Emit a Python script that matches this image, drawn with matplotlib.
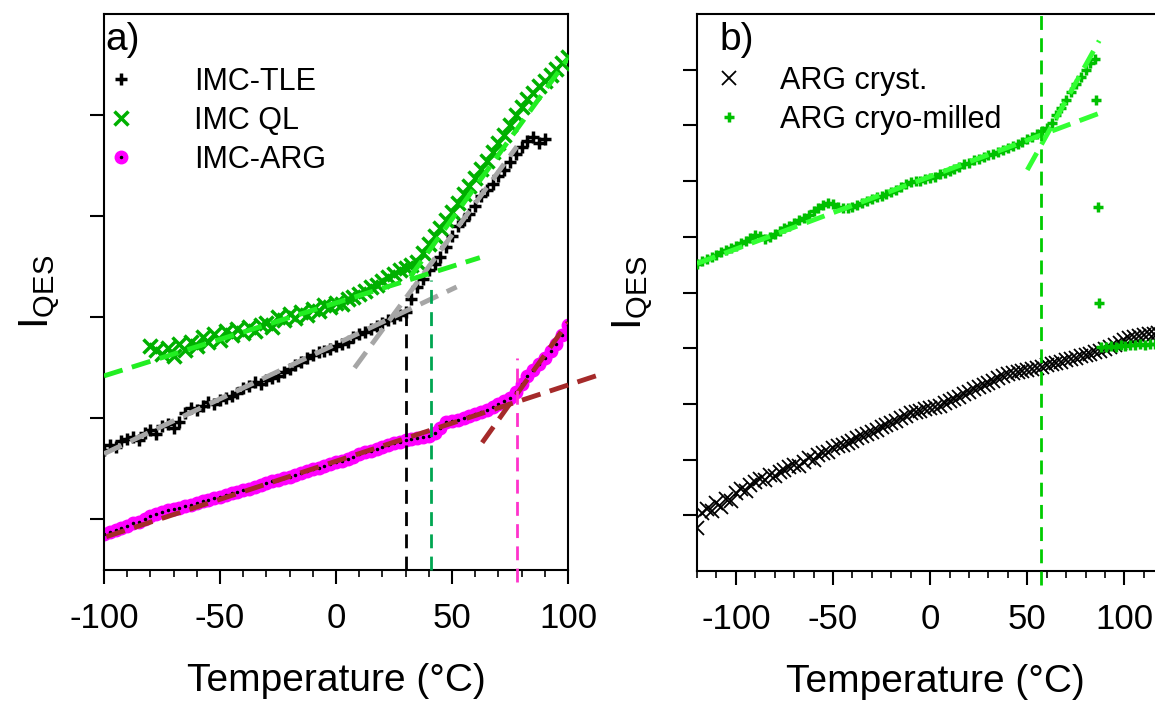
import numpy as np
import matplotlib
matplotlib.use('Agg')
import matplotlib.pyplot as plt
from matplotlib.ticker import MultipleLocator

plt.rcParams['font.family'] = ['Liberation Sans', 'DejaVu Sans']
plt.rcParams['axes.unicode_minus'] = False

# ---- panel a data ----
t_tle = np.arange(-100, 90.1, 2.5)
i_tle = [1.19, 1.24, 1.22, 1.28, 1.30, 1.32, 1.29, 1.36, 1.38, 1.35,
         1.42, 1.44, 1.40, 1.46, 1.55, 1.60, 1.58, 1.62, 1.66, 1.64,
         1.68, 1.70, 1.72, 1.75, 1.80, 1.82, 1.86, 1.84, 1.88, 1.90,
         1.92, 1.96, 1.99, 2.03, 2.06, 2.10, 2.13, 2.16, 2.17, 2.19,
         2.22, 2.24, 2.26, 2.30, 2.33, 2.35, 2.38, 2.41, 2.44, 2.47,
         2.49, 2.52, 2.55, 2.68, 2.80, 2.88, 2.97, 3.03, 3.10, 3.20,
         3.30, 3.40, 3.46, 3.52, 3.60, 3.70, 3.76, 3.82, 3.90, 3.96,
         4.04, 4.12, 4.18, 4.24, 4.28, 4.22, 4.26]

t_ql = np.arange(-80, 100.1, 2.5)
i_ql = [2.22, 2.18, 2.14, 2.20, 2.12, 2.24, 2.18, 2.26, 2.22, 2.30,
        2.26, 2.33, 2.28, 2.36, 2.32, 2.38, 2.34, 2.40, 2.36, 2.42,
        2.44, 2.40, 2.50, 2.47, 2.53, 2.49, 2.55, 2.52, 2.58, 2.56,
        2.62, 2.60, 2.64, 2.63, 2.68, 2.70, 2.73, 2.76, 2.80, 2.82,
        2.86, 2.90, 2.93, 2.97, 2.99, 3.02, 3.05, 3.14, 3.22, 3.30,
        3.38, 3.46, 3.54, 3.63, 3.72, 3.80, 3.88, 3.97, 4.05, 4.13,
        4.22, 4.30, 4.40, 4.50, 4.58, 4.66, 4.72, 4.79, 4.84, 4.90,
        4.96, 5.02, 5.07]

t_arg = np.arange(-100, 100.1, 2.5)
i_arg = [0.36, 0.38, 0.40, 0.42, 0.44, 0.46, 0.47, 0.50, 0.53, 0.55,
         0.57, 0.59, 0.60, 0.61, 0.63, 0.64, 0.66, 0.68, 0.69, 0.71,
         0.72, 0.74, 0.76, 0.77, 0.79, 0.80, 0.82, 0.84, 0.86, 0.88,
         0.89, 0.91, 0.92, 0.94, 0.96, 0.98, 1.00, 1.01, 1.03, 1.05,
         1.07, 1.08, 1.10, 1.12, 1.15, 1.17, 1.18, 1.20, 1.22, 1.24,
         1.26, 1.27, 1.29, 1.30, 1.31, 1.32, 1.33, 1.36, 1.40, 1.46,
         1.47, 1.48, 1.50, 1.52, 1.54, 1.56, 1.58, 1.61, 1.64, 1.67,
         1.70, 1.76, 1.84, 1.92, 1.98, 2.04, 2.10, 2.17, 2.24, 2.32,
         2.42]

# linear fits (end points) and transition temperatures, panel a
fit_ql_low_t, fit_ql_low_i = [-100, 62], [1.92, 3.09]
fit_ql_high_t, fit_ql_high_i = [32, 100], [2.90, 5.06]
fit_tle_low_t, fit_tle_low_i = [-100, 52], [1.15, 2.80]
fit_tle_high_t, fit_tle_high_i = [8, 78], [2.00, 4.19]
fit_arg_low_t, fit_arg_low_i = [-99, 112], [0.33, 1.92]
fit_arg_high_t, fit_arg_high_i = [63, 100], [1.26, 2.45]
tg_a = [30, 41, 78]
tg_a_top = [2.50, 2.87, 2.10]

# ---- panel b data ----
t_cryst = np.arange(-120, 122.6, 2.5)
i_cryst = [0.78, 1.05, 1.12, 1.08, 1.22, 1.15, 1.30, 1.26, 1.40, 1.48,
           1.44, 1.55, 1.60, 1.66, 1.64, 1.72, 1.70, 1.78, 1.82, 1.86,
           1.90, 1.88, 1.96, 2.02, 2.00, 2.08, 2.12, 2.14, 2.20, 2.24,
           2.26, 2.30, 2.34, 2.38, 2.42, 2.46, 2.50, 2.54, 2.58, 2.62,
           2.66, 2.70, 2.74, 2.78, 2.83, 2.86, 2.88, 2.90, 2.92, 2.94,
           2.97, 3.01, 3.05, 3.09, 3.13, 3.17, 3.22, 3.26, 3.30, 3.34,
           3.38, 3.42, 3.46, 3.50, 3.53, 3.55, 3.57, 3.59, 3.61, 3.63,
           3.65, 3.67, 3.69, 3.71, 3.73, 3.76, 3.78, 3.80, 3.83, 3.86,
           3.88, 3.90, 3.93, 3.95, 3.98, 4.02, 4.06, 4.10, 4.14, 4.18,
           4.20, 4.22, 4.23, 4.25, 4.26, 4.28, 4.29, 4.30]

t_milled = np.arange(-120, 85.1, 2.5)
i_milled = [5.52, 5.56, 5.60, 5.63, 5.68, 5.72, 5.76, 5.80, 5.84, 5.88,
            5.93, 5.98, 6.03, 6.02, 5.96, 5.99, 6.05, 6.10, 6.15, 6.20,
            6.25, 6.30, 6.34, 6.40, 6.46, 6.52, 6.57, 6.60, 6.58, 6.54,
            6.51, 6.52, 6.54, 6.57, 6.60, 6.64, 6.68, 6.71, 6.73, 6.77,
            6.80, 6.84, 6.89, 6.94, 6.98, 7.00, 7.01, 7.03, 7.05, 7.08,
            7.12, 7.15, 7.19, 7.22, 7.26, 7.30, 7.33, 7.37, 7.40, 7.43,
            7.46, 7.49, 7.53, 7.56, 7.59, 7.63, 7.67, 7.71, 7.76, 7.80,
            7.84, 7.90, 7.96, 8.04, 8.18, 8.32, 8.46, 8.60, 8.74, 8.87,
            9.00, 9.12, 9.20]
# points while melting, then the melt
t_milled_drop = [85.5, 86.5, 87.0]
i_milled_drop = [8.46, 6.54, 4.82]
t_milled_melt = np.arange(88, 123.1, 2.5)
i_milled_melt = [4.03, 4.02, 4.04, 4.03, 4.05, 4.04, 4.06, 4.05, 4.07,
                 4.06, 4.08, 4.07, 4.09, 4.08, 4.10]

fit_b_low_t, fit_b_low_i = [-120, 88], [5.52, 8.23]
fit_b_high_t, fit_b_high_i = [50, 87], [7.20, 9.52]
tg_b = 57

# ---- figure ----
fig = plt.figure(figsize=(11.55, 7.01), dpi=100)
ax_a = fig.add_axes([104/1155, 131/701, 464/1155, 556/701])
ax_b = fig.add_axes([697/1155, 130/701, 476/1155, 557/701])

fit_kw = dict(linewidth=3.5, dashes=(4, 2), zorder=5)

# panel a
h_arg, = ax_a.plot(t_arg, i_arg, linestyle='', marker='o', ms=9,
                   color='#ff00ff', zorder=2)
h_argd, = ax_a.plot(t_arg, i_arg, linestyle='', marker='.', ms=3,
                    color='black', zorder=2.1)
h_tle, = ax_a.plot(t_tle, i_tle, linestyle='', marker='+', ms=8, mew=2.5,
                   color='black', zorder=3)
h_ql, = ax_a.plot(t_ql, i_ql, linestyle='', marker='x', ms=10, mew=2.5,
                  color='#00b000', zorder=4)

ax_a.plot(fit_tle_low_t, fit_tle_low_i, color='#a6a6a6', **fit_kw)
ax_a.plot(fit_tle_high_t, fit_tle_high_i, color='#a6a6a6', **fit_kw)
ax_a.plot(fit_ql_low_t, fit_ql_low_i, color='#22ee22', **fit_kw)
ax_a.plot(fit_ql_high_t, fit_ql_high_i, color='#22ee22', **fit_kw)
ax_a.plot(fit_arg_low_t, fit_arg_low_i, color='#a52a2a', clip_on=False, **fit_kw)
ax_a.plot(fit_arg_high_t, fit_arg_high_i, color='#a52a2a', **fit_kw)

vcols = ['black', '#00a651', '#ff33cc']
vbottom = [0, 0, -0.12]
for t, top, c, b in zip(tg_a, tg_a_top, vcols, vbottom):
    ax_a.plot([t, t], [b, top], color=c, linewidth=2, dashes=(5, 3),
              clip_on=False, zorder=6)

ax_a.set_xlim(-100, 100)
ax_a.set_ylim(0, 5.5)
ax_a.set_yticks([0.5, 1.5, 2.5, 3.5, 4.5])
ax_a.text(0.003, 0.985, 'a)', transform=ax_a.transAxes, fontsize=28,
          ha='left', va='top')
ax_a.legend([h_tle, h_ql, (h_arg, h_argd)], ['IMC-TLE', 'IMC QL', 'IMC-ARG'],
            loc='upper left', bbox_to_anchor=(0.004, 0.905), frameon=False,
            fontsize=22, handlelength=1.0, handletextpad=1.9,
            borderpad=0, borderaxespad=0, labelspacing=0.3)

# panel b
ax_b.plot(t_cryst, i_cryst, linestyle='', marker='x', ms=10, mew=1.3,
          color='black', zorder=2, label='ARG cryst.')
ax_b.plot(t_milled, i_milled, linestyle='', marker='+', ms=7, mew=2.5,
          color='#00c000', zorder=3, label='ARG cryo-milled')
ax_b.plot(t_milled_drop, i_milled_drop, linestyle='', marker='+', ms=7,
          mew=2.5, color='#00c000', zorder=3)
ax_b.plot(t_milled_melt, i_milled_melt, linestyle='', marker='+', ms=7,
          mew=2.5, color='#00c000', zorder=3)
ax_b.plot(fit_b_low_t, fit_b_low_i, color='#33ff33', **fit_kw)
ax_b.plot(fit_b_high_t, fit_b_high_i, color='#33ff33', **fit_kw)
ax_b.plot([tg_b, tg_b], [-0.25, 10], color='#00cc00', linewidth=2,
          dashes=(5, 3), clip_on=False, zorder=6)

ax_b.set_xlim(-120, 125)
ax_b.set_ylim(0, 10)
ax_b.set_yticks(range(1, 10))
ax_b.text(0.048, 0.985, 'b)', transform=ax_b.transAxes, fontsize=28,
          ha='left', va='top')
ax_b.legend(loc='upper left', bbox_to_anchor=(0.036, 0.907), frameon=False,
            fontsize=22, handlelength=1.0, handletextpad=1.16,
            borderpad=0, borderaxespad=0, labelspacing=0.3)

for ax, lx in [(ax_a, -0.09), (ax_b, -0.088)]:
    ax.xaxis.set_major_locator(MultipleLocator(50))
    ax.xaxis.set_minor_locator(MultipleLocator(10))
    ax.tick_params(axis='x', which='major', direction='out', length=10,
                   width=1.5, labelsize=25, pad=13)
    ax.tick_params(axis='x', which='minor', direction='out', length=5,
                   width=1.2)
    ax.tick_params(axis='y', which='major', direction='out', length=10,
                   width=1.5, labelleft=False)
    for sp in ax.spines.values():
        sp.set_linewidth(1.5)
    ax.set_xlabel('Temperature (°C)', fontsize=28, labelpad=20)
    ax.set_ylabel(r'$\mathregular{I_{QES}}$', fontsize=30)
    ax.yaxis.set_label_coords(lx, 0.5)

fig.savefig('out.png', dpi=100)
